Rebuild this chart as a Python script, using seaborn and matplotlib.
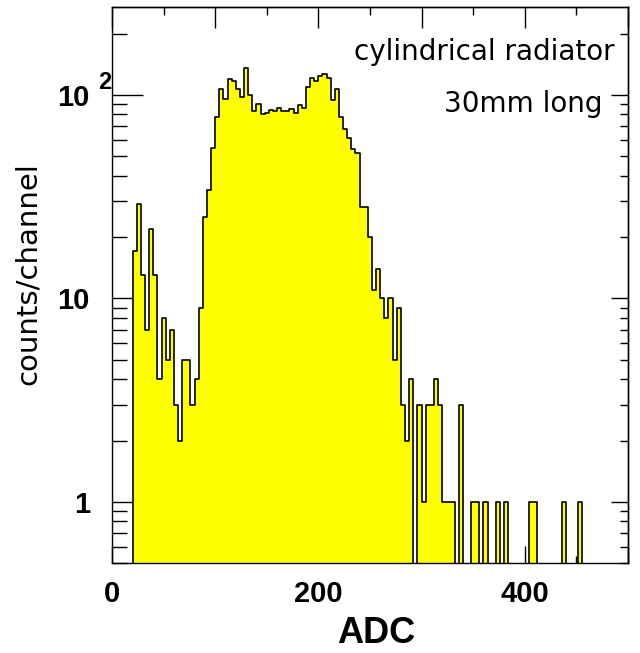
import numpy as np
import pandas as pd
import matplotlib
matplotlib.use("Agg")
import matplotlib.pyplot as plt
import matplotlib.transforms as mtrans
import seaborn as sns
from matplotlib.ticker import LogLocator, MultipleLocator, NullFormatter

# histogram: 4 ADC channels per bin, first filled bin starts at 20
bin_width = 4
first_bin = 20
counts = [17, 29, 13, 7, 22, 13, 4, 8, 5, 7,          # 20-56
          3, 2, 5, 5, 3, 4, 9, 25, 34, 55,             # 60-96
          78, 107, 95, 120, 117, 107, 98, 135, 100, 83,  # 100-136
          90, 80, 81, 84, 83, 86, 83, 83, 85, 81,      # 140-176
          89, 86, 109, 121, 117, 123, 127, 121, 94, 107,  # 180-216
          78, 68, 61, 54, 52, 28, 28, 20, 11, 14,      # 220-256
          10, 8, 10, 5, 9, 3, 2, 4, 0, 3,              # 260-296
          1, 3, 3, 4, 3, 1, 1, 1, 0, 3,                # 300-336
          0, 0, 1, 1, 0, 1, 0, 0, 1, 0,                # 340-376
          1, 0, 0, 0, 0, 0, 1, 1, 0, 0,                # 380-416
          0, 0, 0, 0, 1, 0, 0, 0, 1]                   # 420-452

x_major = [0, 100, 200, 300, 400, 500]
x_labels = ["0", "", "200", "", "400", ""]
y_major = [1, 10, 100]
y_labels = ["1", "10", "10"]

edges = list(range(0, 500 + bin_width, bin_width))
df = pd.DataFrame({
    "adc": first_bin + bin_width * (np.arange(len(counts)) + 0.5),
    "counts": counts,
})

sns.set_style("ticks")
plt.rcParams['font.family'] = ['Liberation Sans', 'DejaVu Sans']
plt.rcParams['axes.linewidth'] = 1.0
for key in ['text.color', 'axes.labelcolor', 'xtick.color', 'ytick.color', 'axes.edgecolor']:
    plt.rcParams[key] = 'black'

fig = plt.figure(figsize=(6.4, 6.53), dpi=100)
ax = fig.add_axes([0.175, 0.1378, 0.806, 0.8515])

sns.histplot(data=df, x="adc", weights="counts", bins=edges, element="step", fill=True,
             color="#ffff00", alpha=1, edgecolor="black", linewidth=1.2, ax=ax)

ax.set_yscale('log')
ax.set_xlim(0, 500)
ax.set_ylim(0.5, 270)

ax.set_xticks(x_major, x_labels)
ax.xaxis.set_minor_locator(MultipleLocator(50))
ax.set_yticks(y_major, y_labels)
ax.yaxis.set_minor_locator(LogLocator(base=10, subs=np.arange(2, 10)))
ax.yaxis.set_minor_formatter(NullFormatter())

ax.tick_params(axis='x', which='major', direction='in', length=12, width=1, pad=12, labelsize=21)
ax.tick_params(axis='x', which='minor', direction='in', length=5, width=1)
ax.tick_params(axis='y', which='major', direction='in', length=22, width=1, pad=16, labelsize=21)
ax.tick_params(axis='y', which='minor', direction='in', length=11, width=1)
for lbl in ax.get_xticklabels() + ax.get_yticklabels():
    lbl.set_fontweight('bold')

# exponent of the 10^2 label
blend = mtrans.blended_transform_factory(ax.transAxes, ax.transData)
ax.annotate("2", xy=(0, 100), xycoords=blend, xytext=(-1, 6), textcoords='offset pixels',
            ha='right', va='baseline', fontsize=17, fontweight='bold')

# ticks on top and right side
top = ax.secondary_xaxis('top')
top.set_xticks(x_major)
top.xaxis.set_minor_locator(MultipleLocator(50))
top.tick_params(which='major', direction='in', length=15, width=1, labeltop=False)
top.tick_params(which='minor', direction='in', length=6, width=1)

right = ax.secondary_yaxis('right')
right.set_yticks(y_major)
right.yaxis.set_minor_locator(LogLocator(base=10, subs=np.arange(2, 10)))
right.yaxis.set_minor_formatter(NullFormatter())
right.tick_params(which='major', direction='in', length=12, width=1, labelright=False)
right.tick_params(which='minor', direction='in', length=6, width=1)

ax.set_ylabel("")
ax.set_xlabel("ADC", fontsize=26, fontweight='bold')
ax.xaxis.set_label_coords(0.512, -0.095)
ax.xaxis.label.set_va('top')

fig.text(28 / 640, 1 - 274 / 653, "counts/channel", rotation=90, ha='center', va='center',
         fontsize=21, family='DejaVu Sans')
fig.text(615 / 640, 1 - 60 / 653, "cylindrical radiator", ha='right', va='baseline',
         fontsize=20, family='DejaVu Sans')
fig.text(603 / 640, 1 - 112 / 653, "30mm long", ha='right', va='baseline',
         fontsize=20, family='DejaVu Sans')

fig.savefig("out.png", dpi=100, facecolor='white')
